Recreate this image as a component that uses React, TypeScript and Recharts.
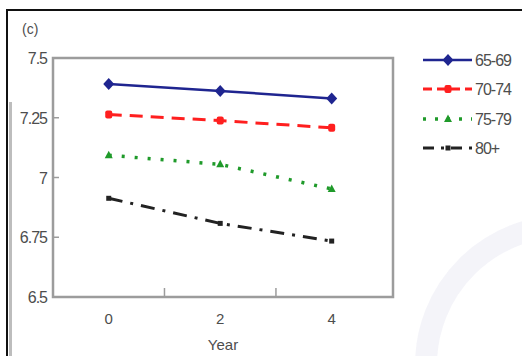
import React from "react";
import {
  LineChart,
  Line,
  XAxis,
  YAxis,
  ReferenceArea,
} from "recharts";

const years = [0, 2, 4];
const age6569 = [7.391, 7.362, 7.331];
const age7074 = [7.264, 7.238, 7.208];
const age7579 = [7.093, 7.055, 6.952];
const age80 = [6.913, 6.808, 6.734];
const xTicks = [0, 1, 2, 3, 4];
const yTicks = [6.5, 6.75, 7, 7.25, 7.5];
const seriesNames = ["65-69", "70-74", "75-79", "80+"];

const data = years.map((y, i) => ({
  year: y,
  a: age6569[i],
  b: age7074[i],
  c: age7579[i],
  d: age80[i],
}));

const FONT = "'Liberation Sans', Arial, sans-serif";
const TEXT = "#4d4d4d";
const FRAME = "#9c9c9c";

const BLUE = "#1f2590";
const RED = "#ff1f1f";
const GREEN = "#1f9a2a";
const BLACK = "#222";

function Diamond({ cx, cy }: { cx?: number; cy?: number }) {
  if (cx == null || cy == null) return null;
  return <path d={`M${cx} ${cy - 6}L${cx + 5.5} ${cy}L${cx} ${cy + 6}L${cx - 5.5} ${cy}Z`} fill={BLUE} />;
}

function RedMark({ cx, cy }: { cx?: number; cy?: number }) {
  if (cx == null || cy == null) return null;
  return <rect x={cx - 3.5} y={cy - 4} width={7} height={8} rx={2} fill={RED} />;
}

function Tri({ cx, cy }: { cx?: number; cy?: number }) {
  if (cx == null || cy == null) return null;
  return <path d={`M${cx} ${cy - 4.5}L${cx + 4} ${cy + 3}L${cx - 4} ${cy + 3}Z`} fill={GREEN} />;
}

function Sq({ cx, cy }: { cx?: number; cy?: number }) {
  if (cx == null || cy == null) return null;
  return <rect x={cx - 2.5} y={cy - 2.5} width={5} height={5} fill={BLACK} />;
}

function XTick({ x, y, payload }: { x?: number; y?: number; payload?: { value: number } }) {
  if (x == null || y == null || !payload) return null;
  if (payload.value % 2 === 1) {
    return <line x1={x} x2={x} y1={y} y2={y - 9} stroke={FRAME} strokeWidth={1.5} />;
  }
  return (
    <text x={x} y={y} dy={27} textAnchor="middle" fill={TEXT} fontSize={15} fontFamily={FONT}>
      {payload.value}
    </text>
  );
}

function YTick({ x, y, payload }: { x?: number; y?: number; payload?: { value: number } }) {
  if (x == null || y == null || !payload) return null;
  return (
    <g>
      <line x1={x} x2={x + 6} y1={y} y2={y} stroke={FRAME} strokeWidth={1.5} />
      <text x={x - 6} y={y} dy={6} textAnchor="end" fill={TEXT} fontSize={16} fontFamily={FONT} letterSpacing={-1}>
        {payload.value}
      </text>
    </g>
  );
}

const legendStyles = [
  { color: BLUE, dash: undefined, width: 2.5, mark: "diamond" },
  { color: RED, dash: "9 5", width: 3, mark: "red" },
  { color: GREEN, dash: "3 9", width: 3.5, mark: "tri" },
  { color: BLACK, dash: "11 7 3 7", width: 3, mark: "sq" },
];

function LegendBox() {
  const rowY = [60, 89, 119, 148];
  return (
    <svg width={522} height={356} style={{ position: "absolute", left: 0, top: 0, pointerEvents: "none" }}>
      {seriesNames.map((name, i) => {
        const s = legendStyles[i];
        const y = rowY[i];
        const mx = 448;
        return (
          <g key={name}>
            <line x1={423} x2={472} y1={y} y2={y} stroke={s.color} strokeWidth={s.width} strokeDasharray={s.dash} />
            {s.mark === "diamond" && <Diamond cx={mx} cy={y} />}
            {s.mark === "red" && <RedMark cx={mx} cy={y} />}
            {s.mark === "tri" && <Tri cx={mx} cy={y} />}
            {s.mark === "sq" && <Sq cx={mx} cy={y} />}
            <text x={475} y={y} dy={6} fill={TEXT} fontSize={16} fontFamily={FONT} letterSpacing={-1}>
              {name}
            </text>
          </g>
        );
      })}
    </svg>
  );
}

export default function App() {
  return (
    <div
      style={{
        position: "fixed",
        left: 0,
        top: 0,
        width: 522,
        height: 356,
        background: "#fff",
        overflow: "hidden",
        fontFamily: FONT,
      }}
    >
      {/* faint watermark */}
      <div
        style={{
          position: "absolute",
          left: 415,
          top: 215,
          width: 300,
          height: 300,
          borderRadius: "50%",
          border: "22px solid rgba(215,215,235,0.28)",
          boxSizing: "border-box",
        }}
      />
      {/* scanned page frame */}
      <div style={{ position: "absolute", left: 6, top: 9, width: 530, height: 360, borderTop: "2px solid #111", borderLeft: "2px solid #111" }} />
      <div style={{ position: "absolute", left: 9, top: 102, width: 3, height: 260, background: "#bdbdbd" }} />
      <div style={{ position: "absolute", left: 22, top: 21, fontSize: 14, color: TEXT }}>(c)</div>

      <LineChart
        width={522}
        height={356}
        data={data}
        margin={{ top: 58, right: 129, bottom: 0, left: 0 }}
        style={{ position: "absolute", left: 0, top: 0 }}
      >
        <ReferenceArea
          x1={-1}
          x2={5.1}
          y1={6.5}
          y2={7.5}
          fill="none"
          stroke={FRAME}
          strokeWidth={2.5}
          ifOverflow="visible"
        />
        <XAxis
          dataKey="year"
          type="number"
          domain={[-1, 5.1]}
          ticks={xTicks}
          allowDataOverflow
          height={59}
          axisLine={false}
          tickLine={false}
          tickSize={0}
          tickMargin={0}
          tick={<XTick />}
          interval={0}
          label={{ value: "Year", position: "insideBottom", offset: 6, fill: TEXT, fontSize: 15, fontFamily: FONT }}
        />
        <YAxis
          type="number"
          domain={[6.5, 7.5]}
          ticks={yTicks}
          width={53}
          axisLine={false}
          tickLine={false}
          tickSize={0}
          tickMargin={0}
          tick={<YTick />}
          interval={0}
        />
        <Line dataKey="d" stroke={BLACK} strokeWidth={3} strokeDasharray="14 8 3 8" dot={<Sq />} activeDot={false} isAnimationActive={false} />
        <Line dataKey="c" stroke={GREEN} strokeWidth={3.5} strokeDasharray="3 10" dot={<Tri />} activeDot={false} isAnimationActive={false} />
        <Line dataKey="b" stroke={RED} strokeWidth={3} strokeDasharray="13 8" dot={<RedMark />} activeDot={false} isAnimationActive={false} />
        <Line dataKey="a" stroke={BLUE} strokeWidth={2.5} dot={<Diamond />} activeDot={false} isAnimationActive={false} />
      </LineChart>
      <LegendBox />
    </div>
  );
}
